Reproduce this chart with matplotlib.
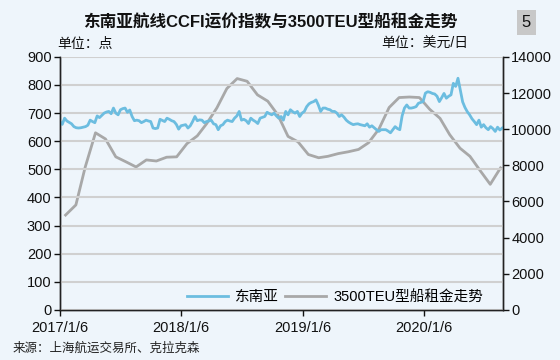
import numpy as np
import pandas as pd
import matplotlib
matplotlib.use('Agg')
import matplotlib.pyplot as plt

plt.rcParams['font.family'] = ['Liberation Sans', 'Noto Sans CJK SC', 'DejaVu Sans']

# weekly CCFI southeast asia index (left axis)
ccfi = [670, 660, 682, 672, 667, 662, 652, 648, 647, 648,
        650, 652, 657, 675, 670, 666, 690, 684, 692, 700,
        704, 706, 698, 718, 700, 694, 712, 716, 718, 703,
        711, 688, 673, 675, 673, 666, 670, 675, 672, 670,
        647, 645, 647, 678, 674, 670, 682, 678, 673, 670,
        660, 643, 655, 657, 659, 647, 655, 670, 688, 673,
        676, 675, 666, 670, 672, 675, 662, 659, 641, 655,
        659, 670, 675, 672, 670, 682, 690, 706, 675, 678,
        673, 663, 682, 675, 670, 663, 682, 685, 688, 703,
        698, 694, 700, 690, 682, 688, 675, 706, 694, 712,
        705, 700, 706, 688, 700, 706, 723, 733, 738, 741,
        747, 729, 706, 718, 718, 714, 712, 706, 706, 700,
        688, 694, 686, 675, 668, 663, 659, 661, 662, 659,
        657, 655, 662, 650, 655, 648, 641, 635, 641, 641,
        641, 636, 630, 641, 652, 645, 641, 690, 718, 729,
        718, 718, 720, 723, 735, 738, 741, 771, 776, 774,
        770, 768, 760, 741, 755, 770, 753, 760, 765, 806,
        795, 824, 782, 740, 720, 705, 694, 680, 670, 659,
        675, 650, 659, 648, 641, 652, 645, 635, 650, 640,
        647]
ccfi_dates = pd.date_range('2017-01-06', periods=len(ccfi), freq='7D')

# monthly 3500TEU charter rate, USD/day (right axis)
charter = [5250, 5810, 7900, 9800, 9460, 8470, 8200, 7910, 8300, 8240,
           8450, 8470, 9200, 9630, 10300, 11180, 12250, 12800, 12650, 11900,
           11550, 10800, 9600, 9300, 8600, 8420, 8500, 8650, 8750, 8880,
           9250, 10000, 11200, 11750, 11780, 11750, 11100, 10600, 9700, 8950,
           8500, 7700, 6950, 7860]
charter_dates = pd.date_range('2017-01-01', periods=len(charter), freq='MS') + pd.Timedelta(days=22)

xticks = pd.to_datetime(['2017-01-06', '2018-01-06', '2019-01-06', '2020-01-06'])
xlabels = ['2017/1/6', '2018/1/6', '2019/1/6', '2020/1/6']

blue = '#6cbde0'
grey = '#a8a8a8'
bg = '#eef5fb'

fig = plt.figure(figsize=(5.6, 3.6), dpi=100, facecolor=bg)
ax = fig.add_axes([0.107, 0.139, 0.791, 0.703])
ax2 = ax.twinx()

ax.set_zorder(ax2.get_zorder() + 1)
ax.patch.set_visible(False)
ax2.patch.set_facecolor('white')

l1, = ax.plot(ccfi_dates, ccfi, color=blue, lw=2, label='东南亚')
l2, = ax2.plot(charter_dates, charter, color=grey, lw=2, label='3500TEU型船租金走势')

ax.set_ylim(0, 900)
ax.set_yticks(range(0, 901, 100))
ax2.set_ylim(0, 14000)
ax2.set_yticks(range(0, 14001, 2000))
ax.set_xlim(pd.Timestamp('2017-01-06'), pd.Timestamp('2020-08-30'))
ax.set_xticks(xticks)
ax.set_xticklabels(xlabels)

ax.grid(axis='y', color='#d0d0d0', lw=1.5)
ax.set_axisbelow(True)

for a in (ax, ax2):
    a.spines['top'].set_visible(False)
    for s in ('left', 'right', 'bottom'):
        a.spines[s].set_color('#222222')
        a.spines[s].set_linewidth(1.0)
    a.tick_params(labelsize=10.5, length=4, width=1, colors='#111111', pad=2)
ax.tick_params(axis='x', pad=4)

leg = ax.legend(handles=[l1, l2], ncol=2, loc='lower right', bbox_to_anchor=(0.985, -0.03),
                frameon=False, fontsize=10.5, handlelength=2.8, columnspacing=0.4,
                handletextpad=0.5)

fig.text(0.482, 0.938, '东南亚航线CCFI运价指数与3500TEU型船租金走势', ha='center', va='center',
         fontsize=12, fontweight='bold', color='#111111')
fig.text(0.94, 0.938, '5', ha='center', va='center', fontsize=12, color='#111111',
         bbox=dict(boxstyle='square,pad=0.3', facecolor='#c8c8c8', edgecolor='none'))
fig.text(0.102, 0.878, '单位：点', ha='left', va='center', fontsize=10, color='#111111')
fig.text(0.836, 0.878, '单位：美元/日', ha='right', va='center', fontsize=10, color='#111111')
fig.text(0.022, 0.033, '来源：上海航运交易所、克拉克森', ha='left', va='center', fontsize=9,
         color='#222222')

fig.savefig('out.png', dpi=100, facecolor=bg)
